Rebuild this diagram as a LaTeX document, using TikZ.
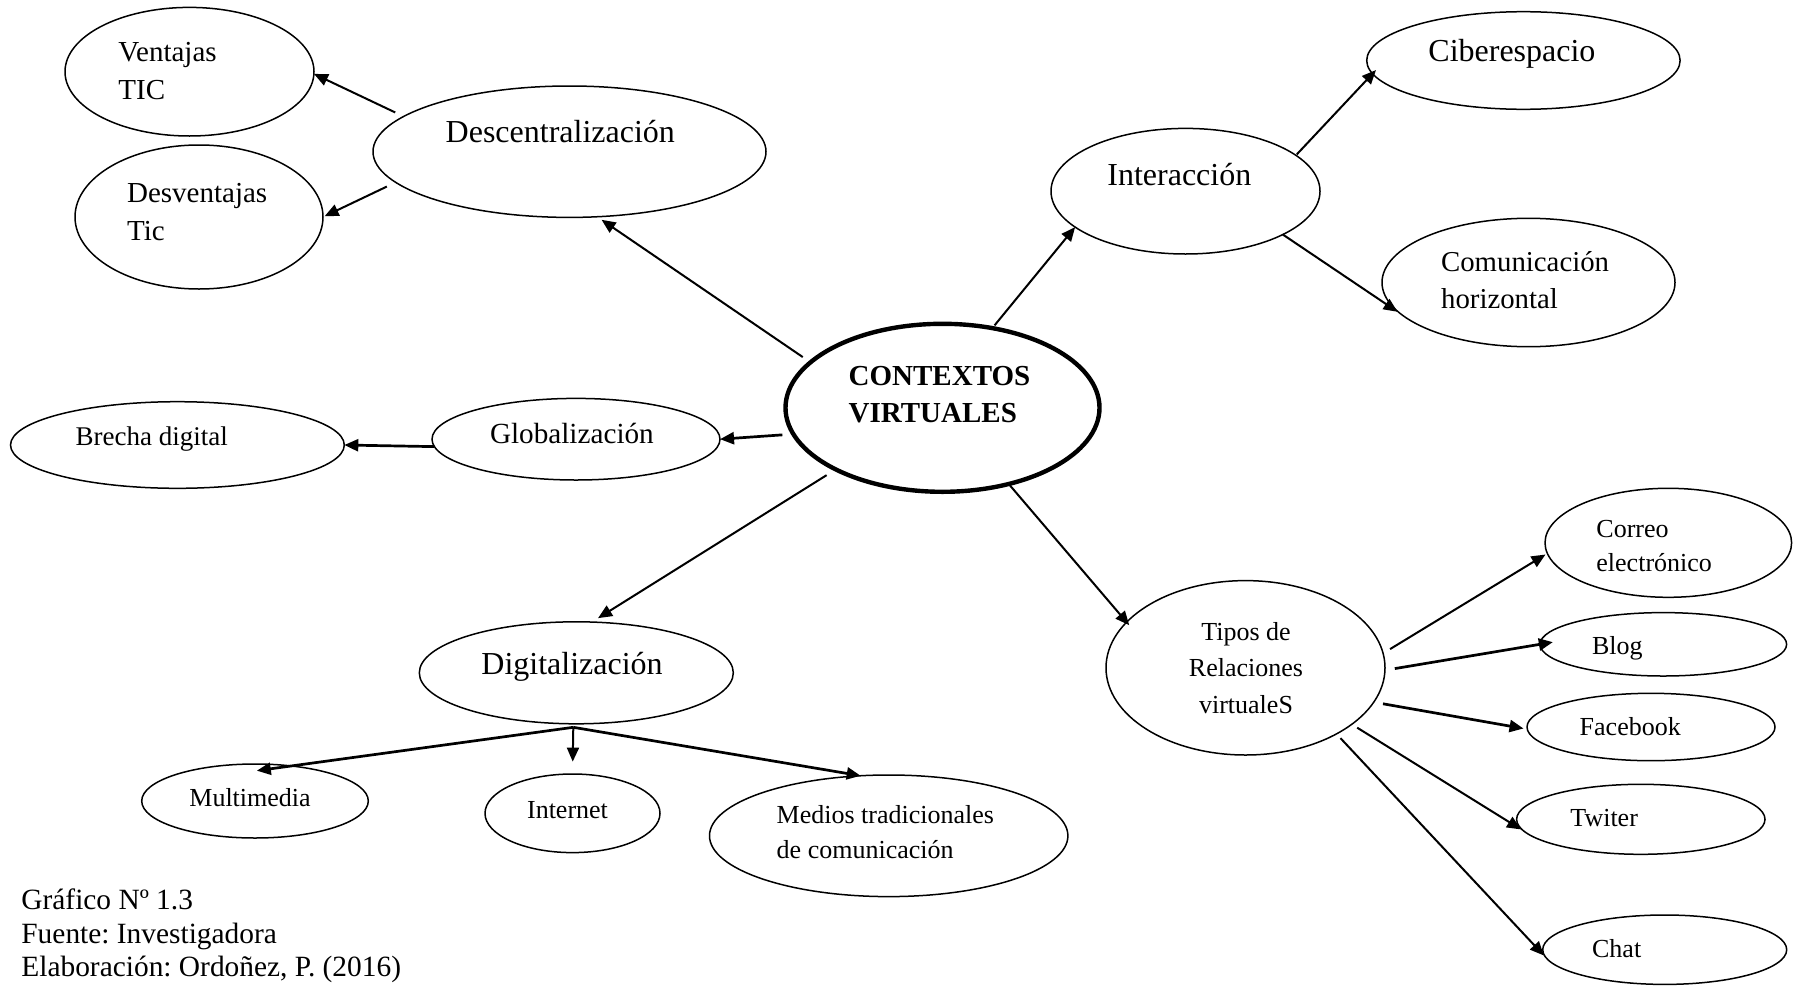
\documentclass[tikz,border=0pt]{standalone}
\usepackage{fontspec}
\setmainfont{Liberation Serif}
\usetikzlibrary{shapes.geometric,arrows.meta}
\frenchspacing

\begin{document}
\begin{tikzpicture}%
        [x=0.5pt, y=-0.5pt,
        bubble/.style={draw, ellipse, line width=0.75pt, inner sep=0pt, outer sep=0pt},
        hubBubble/.style={draw, ellipse, line width=2.2pt, inner sep=0pt, outer sep=0pt},
        link/.style={-{Triangle[length=7pt,width=6pt]}, line width=1pt},
        heavyLink/.style={-{Triangle[length=7pt,width=6pt]}, line width=1.35pt},
        txtBig/.style={inner sep=0pt, anchor=base west, font=\fontsize{16}{20}\selectfont},
        txtMid/.style={inner sep=0pt, anchor=base west, align=left, font=\fontsize{14.5}{18.8}\selectfont},
        txtSmall/.style={inner sep=0pt, anchor=base west, align=left, font=\fontsize{13}{17}\selectfont}]
%
\useasboundingbox (0,0) rectangle (1803,985);
%
%% The bubbles:
%%
\node[hubBubble, minimum width=157pt, minimum height=84pt] (core) at (942.5, 407.8) {};

\node[bubble, minimum width=196.5pt, minimum height=65.7pt] (desc) at (569.5, 151.7) {};
\node[bubble, minimum width=124.5pt, minimum height=64.3pt] (vent) at (189.5, 71.7) {};
\node[bubble, minimum width=124pt, minimum height=72pt] (desv) at (199, 217) {};

\node[bubble, minimum width=134.5pt, minimum height=62.8pt] (inter) at (1185.5, 191.2) {};
\node[bubble, minimum width=156.7pt, minimum height=48.8pt] (cyber) at (1523.4, 60.5) {};
\node[bubble, minimum width=146.5pt, minimum height=64.2pt] (comm) at (1528.5, 282.5) {};

\node[bubble, minimum width=144pt, minimum height=40.8pt] (glob) at (576, 439.2) {};
\node[bubble, minimum width=166.9pt, minimum height=43.3pt] (brecha) at (177.4, 445) {};

\node[bubble, minimum width=157pt, minimum height=51pt] (digit) at (576.3, 672.8) {};
\node[bubble, minimum width=113.3pt, minimum height=37pt] (multi) at (255, 801) {};
\node[bubble, minimum width=87.5pt, minimum height=39.3pt] (inet) at (572.5, 813.3) {};
\node[bubble, minimum width=179.2pt, minimum height=60.8pt] (medios) at (888.7, 835.8) {};

\node[bubble, minimum width=139.5pt, minimum height=87.2pt] (tipos) at (1245.5, 667.8) {};
\node[bubble, minimum width=123.3pt, minimum height=54.5pt] (correo) at (1668.3, 542.8) {};
\node[bubble, minimum width=123.3pt, minimum height=31.7pt] (blog) at (1663.3, 644.3) {};
\node[bubble, minimum width=124pt, minimum height=33.7pt] (fb) at (1651, 727) {};
\node[bubble, minimum width=124.2pt, minimum height=35pt] (twit) at (1640.8, 819.3) {};
\node[bubble, minimum width=122pt, minimum height=34.7pt] (chat) at (1664.7, 949.7) {};
%%
%%
%% The texts (multi-line ones sit on the base of their last line)
%%
\node[txtMid, font=\bfseries\fontsize{14.5}{18.85}\selectfont] (core-t) at (848.3, 422.7) {CONTEXTOS\\VIRTUALES};

\node[txtBig] (desc-t) at (445.3, 142.7) {Descentralización};
\node[txtMid] (vent-t) at (118, 99.3) {Ventajas\\TIC};
\node[txtMid, font=\fontsize{14.5}{19}\selectfont] (desv-t) at (126.7, 240.7) {Desventajas\\Tic};

\node[txtBig] (inter-t) at (1107, 185) {Interacción};
\node[txtBig] (cyber-t) at (1428, 61.7) {Ciberespacio};
\node[txtMid, font=\fontsize{14.4}{18.3}\selectfont] (comm-t) at (1440.7, 308.3) {Comunicación\\horizontal};

\node[txtMid, font=\fontsize{14.6}{18}\selectfont] (glob-t) at (489.6, 443.3) {Globalización};
\node[txtSmall, font=\fontsize{13.5}{17}\selectfont] (brecha-t) at (75.2, 445) {Brecha digital};

\node[txtBig] (digit-t) at (481, 674.3) {Digitalización};
\node[txtSmall] (multi-t) at (189, 806.7) {Multimedia};
\node[txtSmall] (inet-t) at (526.7, 818.3) {Internet};
\node[txtSmall, font=\fontsize{13}{17.5}\selectfont] (medios-t) at (776.3, 858.3) {Medios tradicionales\\de comunicación};

\node[txtSmall, anchor=base, align=center, font=\fontsize{13}{18.3}\selectfont] (tipos-t) at (1246, 713.3) {Tipos de\\Relaciones\\virtualeS};
\node[txtSmall, font=\fontsize{13}{16.8}\selectfont] (correo-t) at (1596, 571) {Correo\\electrónico};
\node[txtSmall] (blog-t) at (1591.7, 654) {Blog};
\node[txtSmall] (fb-t) at (1579.3, 735.7) {Facebook};
\node[txtSmall] (twit-t) at (1570, 826.7) {Twiter};
\node[txtSmall] (chat-t) at (1591.7, 957.7) {Chat};

\node[txtMid, font=\fontsize{14.7}{16.7}\selectfont] (caption) at (21, 976.7) {Gráfico Nº 1.3\\Fuente: Investigadora\\Elaboración: Ordoñez, P. (2016)};
%%
%%
%% The arrows
%%
\draw[link, shorten <=4.7pt, shorten >=2.7pt] (core.161.7) -- (desc.-67.9);
\draw[link, shorten <=4.7pt] (desc.168.6) -- (vent.-1.5);
\draw[link, shorten <=4.9pt, shorten >=0.9pt] (desc.-170.9) -- (desv.0.9);

\draw[link, shorten <=1.8pt] (core.58.5) -- (inter.-162.1);
\draw[link, shorten <=0.6pt, shorten >=-2.5pt] (inter.18.7) -- (cyber.-175.2);
\draw[link, shorten >=8pt] (inter.-24.6) -- (comm.-162.4);

\draw[heavyLink, shorten <=5.5pt] (core.-170) -- (glob.0.8);
\draw[heavyLink] (glob.-177.3) -- (brecha.0.6);

\draw[link, shorten <=5.4pt, shorten >=3.7pt] (core.-150.6) -- (digit.73.6);
\coordinate (dsplit) at ([xshift=-1.5pt, yshift=-1.75pt]digit.south);
\draw[heavyLink, shorten >=-17.4pt] (dsplit) -- (multi.44);
\draw[link, shorten >=6.2pt] (dsplit) -- (inet.north);
\draw[heavyLink] (dsplit) -- (medios.115.1);

\draw[link, shorten >=-2pt] (core.-49.6) -- (tipos.159.8);
\draw[link, shorten <=4.1pt, shorten >=1.1pt] (tipos.6.7) -- (correo.-175.1);
\draw[heavyLink, shorten <=5pt, shorten >=-6.5pt] (tipos.-1.4) -- (blog.west);
\draw[heavyLink, shorten <=4.7pt, shorten >=1.9pt] (tipos.-15.7) -- (fb.-179.4);
\draw[link, shorten <=3.2pt, shorten >=2pt] (tipos.-28.7) -- (twit.-174.5);
\draw[link, shorten <=2.9pt, shorten >=1.7pt] (tipos.-36.9) -- (chat.-176.7);

\end{tikzpicture}
\end{document}
